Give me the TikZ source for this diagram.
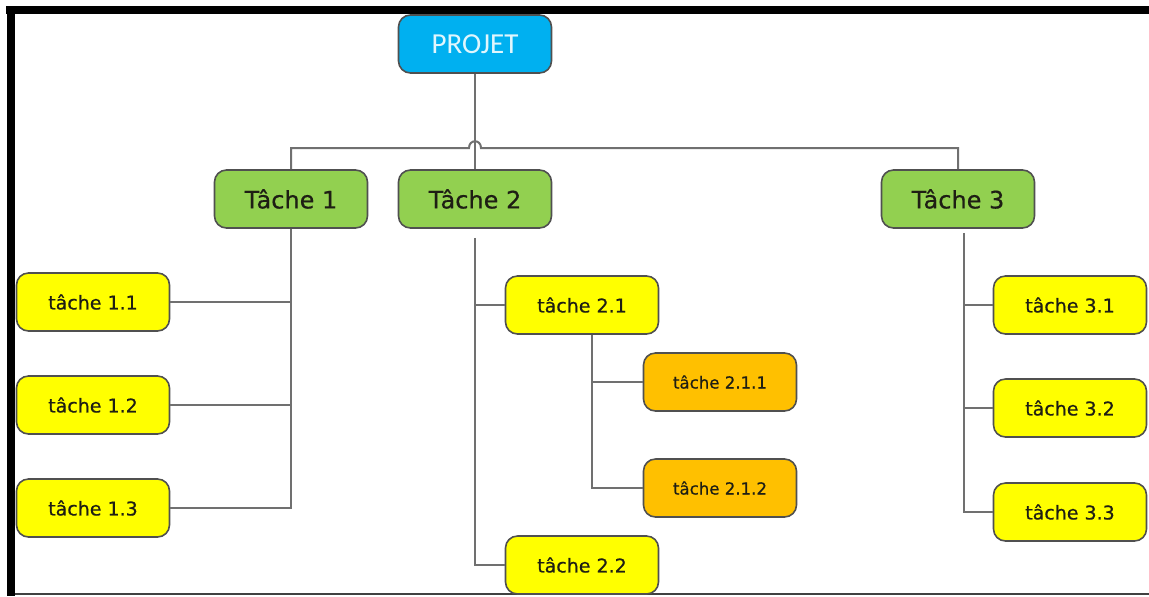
\documentclass[tikz,border=0pt]{standalone}
\usepackage{fontspec}
\setmainfont{DejaVu Sans}
\newfontfamily\carlito{Carlito}
\newfontfamily\heavyfont[FakeBold=0.5]{DejaVu Sans}
\usetikzlibrary{positioning}
\definecolor{projblue}{HTML}{00B0F0}
\definecolor{tachegreen}{HTML}{92D050}
\definecolor{sousyellow}{HTML}{FFFF00}
\definecolor{sousorange}{HTML}{FFC000}
\definecolor{boxline}{HTML}{505050}
\definecolor{linkgray}{HTML}{707070}
\definecolor{txtdark}{HTML}{1E1E14}

\begin{document}
\begin{tikzpicture}
    [x=0.5pt,y=-0.5pt,
     every node/.style={draw=boxline, line width=0.8pt, rounded corners=6pt,
       minimum width=76.5pt, minimum height=29pt, inner sep=0pt, text=txtdark},
     proj/.style={fill=projblue, text=white!88!projblue, font=\carlito\fontsize{14.5}{16}\selectfont},
     tache/.style={fill=tachegreen, font=\heavyfont\fontsize{12}{14}\selectfont},
     sous/.style={fill=sousyellow, font=\heavyfont\fontsize{9.5}{11}\selectfont},
     soussous/.style={fill=sousorange, font=\heavyfont\fontsize{8.3}{10}\selectfont},
     link/.style={draw=linkgray, line width=1pt}]
  \useasboundingbox (0,0) rectangle (1149,596);
  % frame
  \fill (6,6) rectangle (1149,14);
  \fill (7,6) rectangle (15,596);
  \fill[black!75] (15,593) rectangle (1149,595);

  \node[proj] (proj) at (475,44) {PROJET};

  \node[tache] (t1) at (291,199) {Tâche 1};
  \node[tache] (t2) at (475,199) {Tâche 2};
  \node[tache] (t3) at (958,199) {Tâche 3};

  \node[sous] (t11) at (93,302) {tâche 1.1};
  \node[sous] (t12) at (93,405) {tâche 1.2};
  \node[sous] (t13) at (93,508) {tâche 1.3};

  \node[sous] (t21) at (582,305) {tâche 2.1};
  \node[soussous] (t211) at (720,382) {tâche 2.1.1};
  \node[soussous] (t212) at (720,488) {tâche 2.1.2};
  \node[sous] (t22) at (582,565) {tâche 2.2};

  \node[sous] (t31) at (1070,305) {tâche 3.1};
  \node[sous] (t32) at (1070,408) {tâche 3.2};
  \node[sous] (t33) at (1070,512) {tâche 3.3};

  % top level
  \coordinate (hopL) at (469,148);
  \coordinate (hopR) at (481,148);
  \draw[link] (proj) -- (t2);
  \draw[link] (t1.north) |- (hopL) .. controls +(0,-9) and +(0,-9) .. (hopR) -| (t3.north);

  % branches
  \coordinate (b2) at ([yshift=-4.5pt]t2.south);
  \coordinate (b21) at ([xshift=5pt]t21.south);
  \coordinate (b3) at ([xshift=3pt,yshift=-2pt]t3.south);
  \draw[link] (t1.south) |- (t13.east);
  \foreach \n in {t11,t12}
    \draw[link] (\n.east) -- (\n.east -| t1.south);
  \draw[link] (b2) |- (t22.west);
  \draw[link] (t21.west) -- (t21.west -| b2);
  \draw[link] (b21) |- (t212.west);
  \draw[link] (t211.west) -- (t211.west -| b21);
  \draw[link] (b3) |- (t33.east -| b3) -- (t33.west);
  \foreach \n in {t31,t32}
    \draw[link] (\n.west) -- (\n.west -| b3);
\end{tikzpicture}
\end{document}
